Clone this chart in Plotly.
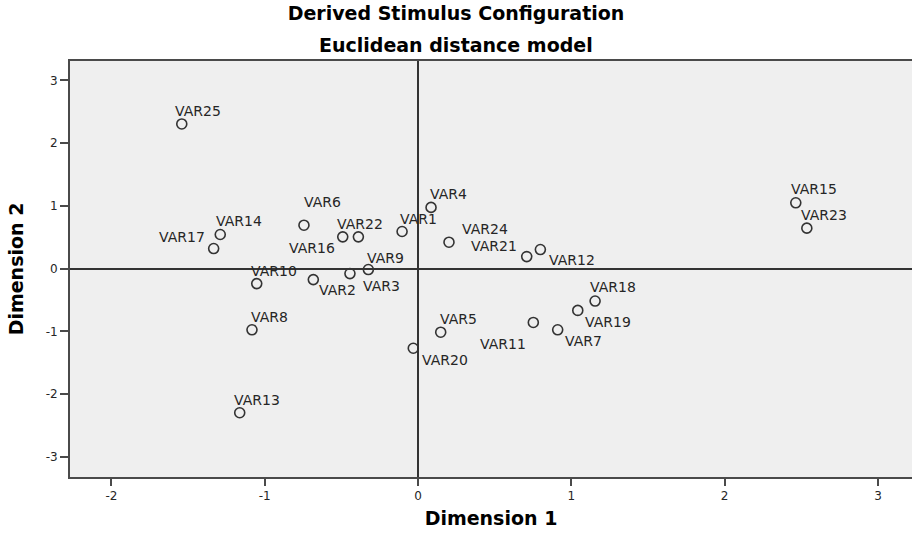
import plotly.graph_objects as go

# ---- data ----
labels = ["VAR1", "VAR2", "VAR3", "VAR4", "VAR5", "VAR6", "VAR7", "VAR8", "VAR9", "VAR10",
          "VAR11", "VAR12", "VAR13", "VAR14", "VAR15", "VAR16", "VAR17", "VAR18", "VAR19",
          "VAR20", "VAR21", "VAR22", "VAR23", "VAR24", "VAR25"]
dim1 = [-0.104, -0.683, -0.444, 0.085, 0.148, -0.744, 0.911, -1.083, -0.324, -1.052,
        0.752, 0.798, -1.163, -1.290, 2.464, -0.389, -1.333, 1.155, 1.042,
        -0.031, 0.709, -0.491, 2.536, 0.202, -1.541]
dim2 = [0.593, -0.174, -0.078, 0.977, -1.012, 0.693, -0.974, -0.974, -0.014, -0.238,
        -0.857, 0.305, -2.296, 0.545, 1.050, 0.507, 0.321, -0.516, -0.665,
        -1.268, 0.193, 0.507, 0.646, 0.422, 2.307]
x_ticks = [-2, -1, 0, 1, 2, 3]
y_ticks = [-3, -2, -1, 0, 1, 2, 3]

# label placement offsets (pixels, label centre relative to point; +y is down)
label_offsets = {
    "VAR1": (16.8, -12), "VAR2": (23.9, 10), "VAR3": (32, 12), "VAR4": (17, -13.3),
    "VAR5": (18, -13.4), "VAR6": (18.8, -23.3), "VAR7": (26.1, 11), "VAR8": (17.7, -13.3),
    "VAR9": (17.5, -12), "VAR10": (17.5, -12.6), "VAR11": (-30.8, 21.3), "VAR12": (31.5, 10.7),
    "VAR13": (17.5, -13), "VAR14": (18.9, -13.6), "VAR15": (18.1, -13.4), "VAR16": (-46.3, 11.6),
    "VAR17": (-31.7, -11.6), "VAR18": (17.5, -13.7), "VAR19": (30.5, 11.7), "VAR20": (31.5, 11.3),
    "VAR21": (-32.9, -11), "VAR22": (17.5, -12.7), "VAR23": (17.5, -13), "VAR24": (36.5, -13.3),
    "VAR25": (16.6, -13),
}

W, H = 912, 534
ML, MR, MT, MB = 70, 0, 61, 57

label_font = dict(family="DejaVu Sans", size=14, color="#262626")
tick_font = dict(family="DejaVu Sans", size=12, color="#262626")
title_font = dict(family="DejaVu Sans", size=19, color="#000000", weight="bold")

fig = go.Figure()
fig.add_trace(go.Scatter(
    x=dim1, y=dim2, mode="markers", text=labels,
    marker=dict(symbol="circle-open", size=10, color="#333333", line=dict(width=1.6, color="#333333")),
    hoverinfo="text+x+y", showlegend=False,
))

annotations = []
for name, xv, yv in zip(labels, dim1, dim2):
    dx, dy = label_offsets[name]
    annotations.append(dict(
        x=xv, y=yv, xref="x", yref="y", text=name, showarrow=False,
        xanchor="center", yanchor="middle", xshift=dx, yshift=-dy, font=label_font,
    ))
plot_w = W - ML - MR
plot_h = H - MT - MB
annotations.append(dict(
    text="Euclidean distance model",
    x=(W / 2 - ML) / plot_w, y=1 + (MT - 44.7) / plot_h, xref="paper", yref="paper",
    showarrow=False, font=title_font, xanchor="center", yanchor="middle",
))

fig.update_layout(
    width=W, height=H,
    margin=dict(l=ML, r=MR, t=MT, b=MB),
    paper_bgcolor="white", plot_bgcolor="#efefef",
    title=dict(text="Derived Stimulus Configuration", x=0.5, xanchor="center",
               y=1 - 13.5 / H, yanchor="middle", yref="container", font=title_font),
    annotations=annotations,
    font=dict(family="DejaVu Sans", color="#262626"),
)

fig.update_xaxes(
    range=[-2.27, 3.222], tickvals=x_ticks, ticktext=[str(v) for v in x_ticks],
    showgrid=False, zeroline=True, zerolinecolor="#333333", zerolinewidth=2,
    showline=True, linecolor="#4a4a4a", linewidth=2, mirror=True,
    ticks="outside", ticklen=7, tickwidth=1.5, tickcolor="#4a4a4a", tickfont=tick_font,
    title=dict(text="Dimension 1", font=title_font, standoff=9),
)
fig.update_yaxes(
    range=[-3.32, 3.31], tickvals=y_ticks, ticktext=[str(v) for v in y_ticks],
    showgrid=False, zeroline=True, zerolinecolor="#333333", zerolinewidth=2,
    showline=True, linecolor="#4a4a4a", linewidth=2, mirror=False,
    ticks="outside", ticklen=8, tickwidth=1.5, tickcolor="#4a4a4a", tickfont=tick_font,
    title=dict(text="Dimension 2", font=title_font, standoff=17),
)

fig.write_html("out.html", config={"displayModeBar": False},
               post_script="document.body.style.margin='0';")
